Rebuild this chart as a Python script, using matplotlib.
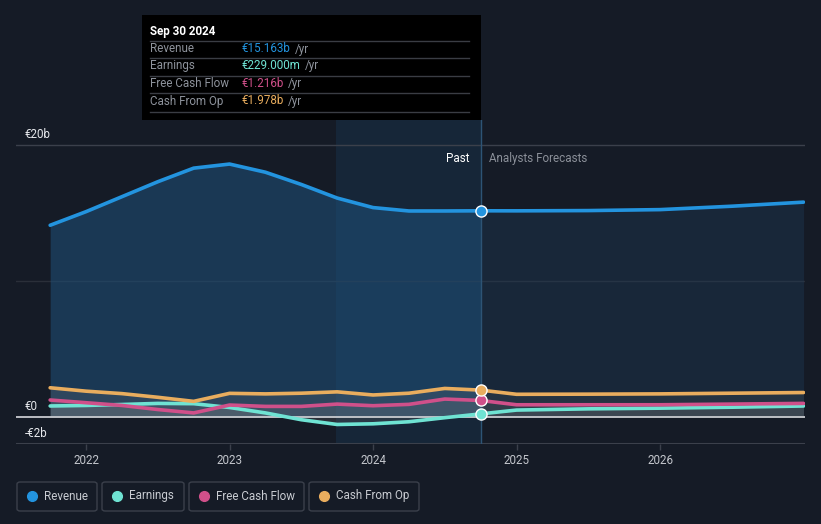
import matplotlib
matplotlib.use("Agg")
import matplotlib.pyplot as plt
from matplotlib.patches import Rectangle, FancyBboxPatch
from matplotlib.lines import Line2D

plt.rcParams["font.family"] = ["Roboto", "DejaVu Sans"]

# past (reported) values, EUR billions
past_t = [2021.75, 2022.0, 2022.25, 2022.5, 2022.75, 2023.0, 2023.25,
          2023.5, 2023.75, 2024.0, 2024.25, 2024.5, 2024.75]
past_revenue = [14.1, 15.1, 16.2, 17.3, 18.3, 18.6, 18.0, 17.1, 16.1, 15.4, 15.15, 15.15, 15.163]
past_earnings = [0.81, 0.85, 0.92, 1.0, 0.98, 0.7, 0.3, -0.2, -0.55, -0.5, -0.35, -0.05, 0.229]
past_fcf = [1.25, 1.05, 0.85, 0.55, 0.3, 0.88, 0.78, 0.78, 0.95, 0.83, 0.93, 1.32, 1.216]
past_cfo = [2.15, 1.9, 1.72, 1.45, 1.15, 1.74, 1.7, 1.75, 1.85, 1.62, 1.75, 2.1, 1.978]

# analyst forecasts
fc_t = [2024.75, 2025.0, 2025.5, 2026.0, 2026.5, 2027.0]
fc_revenue = [15.163, 15.16, 15.18, 15.25, 15.5, 15.8]
fc_earnings = [0.229, 0.51, 0.6, 0.65, 0.72, 0.81]
fc_fcf = [1.216, 0.9, 0.9, 0.9, 0.95, 1.0]
fc_cfo = [1.978, 1.67, 1.68, 1.7, 1.75, 1.8]

series_names = ["Revenue", "Earnings", "Free Cash Flow", "Cash From Op"]
tooltip_values = ["€15.163b", "€229.000m", "€1.216b", "€1.978b"]
year_ticks = [2022, 2023, 2024, 2025, 2026]

bg = "#151b26"
colors = ["#2394df", "#6fe3d3", "#d0508a", "#e9ad5e"]
fs = 8.4

W, H = 821, 524
fig = plt.figure(figsize=(W / 100, H / 100), dpi=100, facecolor=bg)


def fx(px):
    return px / W


def fy(py):
    return 1 - py / H


ax = fig.add_axes([fx(16), fy(444), fx(805) - fx(16), fy(120) - fy(444)])
ax.set_facecolor(bg)
ax.set_xlim(2021.512, 2027.01)
ax.set_ylim(-1.985, 21.84)
for s in ax.spines.values():
    s.set_visible(False)
ax.set_yticks([])

# past highlight
ax.axvspan(2023.74, 2024.75, color="#1d5a8a", alpha=0.18, lw=0, zorder=0)

# grid lines
ax.axhline(20, color="#3b404b", lw=1, zorder=1)
ax.axhline(10, color="#2a2f39", lw=1, zorder=1)
ax.axhline(-1.985, color="#3b404b", lw=1.5, zorder=1)

# revenue fill
ax.fill_between(past_t, past_revenue, 0, color="#1f507a", alpha=0.55, lw=0, zorder=2)
ax.fill_between(fc_t, fc_revenue, 0, color="#1f3f5e", alpha=0.35, lw=0, zorder=2)

# other fills
for pv, fv in [(past_cfo, fc_cfo), (past_fcf, fc_fcf), (past_earnings, fc_earnings)]:
    ax.fill_between(past_t, pv, 0, color="#8a8a8a", alpha=0.18, lw=0, zorder=3)
    ax.fill_between(fc_t, fv, 0, color="#8a8a8a", alpha=0.12, lw=0, zorder=3)

ax.axhline(0, color="#c8cacf", lw=1.3, zorder=4)
ax.axvline(2024.75, color="#2d5475", lw=1, zorder=4)

past_all = [past_revenue, past_earnings, past_fcf, past_cfo]
fc_all = [fc_revenue, fc_earnings, fc_fcf, fc_cfo]
for c, pv, fv in zip(colors, past_all, fc_all):
    ax.plot(past_t, pv, color=c, lw=2.6, solid_capstyle="round", solid_joinstyle="round", zorder=5)
    ax.plot(fc_t, fv, color=c, lw=2.6, solid_capstyle="round", solid_joinstyle="round", zorder=5)
    ax.plot([past_t[-1]], [pv[-1]], "o", ms=8, color=c, mec="white", mew=1, zorder=6)

# y labels inside
tr = ax.get_yaxis_transform()
for val, lab in [(20, "€20b"), (0, "€0"), (-1.985, "-€2b")]:
    ax.annotate(lab, (0.011, val), xycoords=tr, xytext=(0, 3), textcoords="offset points",
                color="#e6e8ec", fontsize=fs, va="bottom", ha="left")

ax.set_xticks(year_ticks)
ax.set_xticklabels([str(y) for y in year_ticks])
ax.tick_params(axis="x", colors="#3b404b", labelcolor="#c3c6cc", labelsize=fs,
               length=4, width=1, pad=3)

ax.text(2024.67, 19.0, "Past", color="white", fontsize=fs, ha="right", va="center")
ax.text(2024.81, 19.0, "Analysts Forecasts", color="#8b9099", fontsize=fs, ha="left", va="center")

# tooltip
fig.patches.append(Rectangle((fx(142), fy(120)), fx(481) - fx(142), fy(15) - fy(120),
                             transform=fig.transFigure, facecolor="#000000", edgecolor="none",
                             zorder=10))
fig.text(fx(150), fy(31), "Sep 30 2024", color="white", fontsize=fs, fontweight="bold",
         va="center", zorder=11)
for yl in [41, 58, 76, 93, 112]:
    fig.add_artist(Line2D([fx(150), fx(469)], [fy(yl), fy(yl)], color="#3a3d44", lw=1, zorder=11))
row_y = [49, 66, 84, 101]
val_texts = []
for name, val, c, yy in zip(series_names, tooltip_values, colors, row_y):
    fig.text(fx(150), fy(yy), name, color="#8e939c", fontsize=fs, va="center", zorder=11)
    t = fig.text(fx(242), fy(yy), val, color=c, fontsize=fs, va="center", zorder=11)
    val_texts.append((t, yy))

fig.canvas.draw()
rend = fig.canvas.get_renderer()
for t, yy in val_texts:
    bb = t.get_window_extent(rend)
    fig.text(bb.x1 / W + fx(4), fy(yy), "/yr", color="#8e939c", fontsize=fs, va="center", zorder=11)

# legend buttons
boxes = [(17, 97), (102, 184), (189, 304), (309, 419)]
for (x0, x1), name, c in zip(boxes, series_names, colors):
    fig.patches.append(FancyBboxPatch((fx(x0), fy(511)), fx(x1) - fx(x0), fy(482) - fy(511),
                                      boxstyle="round,pad=0,rounding_size=0.004",
                                      transform=fig.transFigure, facecolor=bg,
                                      edgecolor="#3b404b", lw=1))
    fig.add_artist(Line2D([fx(x0 + 15)], [fy(496)], marker="o", ms=7, color=c, lw=0))
    fig.text(fx(x0 + 27), fy(496), name, color="#c9ccd2", fontsize=fs, va="center")

fig.savefig("out.png", dpi=100, facecolor=bg)
